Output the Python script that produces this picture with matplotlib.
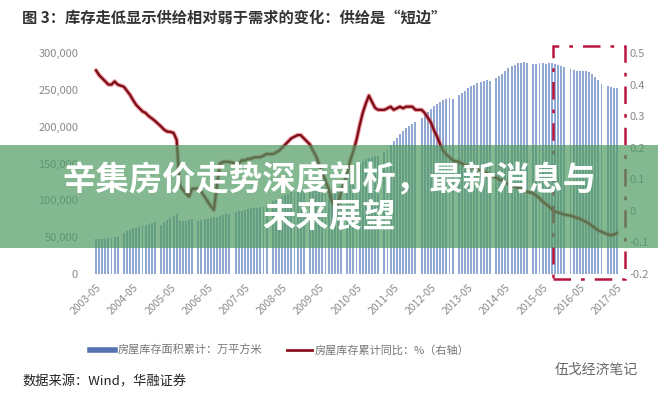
import numpy as np
import pandas as pd
import matplotlib
matplotlib.use("Agg")
import matplotlib.pyplot as plt
from matplotlib.lines import Line2D
from matplotlib.patches import Rectangle
from matplotlib.ticker import FuncFormatter

plt.rcParams['font.family'] = ['Noto Sans CJK SC', 'DejaVu Sans']

# monthly axis 2003-05 .. 2017-05, January has no data (Jan+Feb reported together)
first_month = '2003-05'
last_month = '2017-05'

# 房屋库存面积累计 (thousand 万平方米), one line per year, Feb..Dec
inventory_k = [
    47, 47, 48, 48, 49, 49, 50, 50,                      # 2003 May-Dec
    56, 58, 60, 62, 63, 64, 66, 67, 68, 69, 70,          # 2004
    67, 70, 73, 76, 79, 82, 72, 72, 72, 73, 74,          # 2005
    72, 73, 74, 75, 76, 77, 78, 79, 80, 81, 82,          # 2006
    84, 85, 86, 87, 88, 89, 90, 90, 91, 91, 92,          # 2007
    99, 101, 103, 105, 107, 109, 111, 112, 113, 113, 113,  # 2008
    119, 119, 120, 120, 120, 119, 119, 116, 115, 115, 119,  # 2009
    133, 137, 141, 145, 149, 153, 156, 158, 159, 160, 160,  # 2010
    166, 170, 175, 180, 185, 190, 194, 198, 201, 204, 207,  # 2011
    212, 216, 220, 224, 228, 231, 234, 236, 238, 239, 238,  # 2012
    243, 246, 249, 252, 255, 257, 259, 261, 262, 263, 262,  # 2013
    266, 269, 272, 276, 279, 282, 284, 286, 287, 288, 287,  # 2014
    285, 285, 286, 286, 285, 286, 286, 285, 284, 283, 281,  # 2015
    278, 277, 276, 276, 275, 275, 274, 272, 268, 263, 258,  # 2016
    255, 254, 253, 253,                                  # 2017 Feb-May
]

# 房屋库存累计同比 (right axis)
yoy = [
    0.445, 0.43, 0.42, 0.41, 0.40, 0.40, 0.41, 0.40,
    0.393, 0.38, 0.367, 0.35, 0.335, 0.325, 0.315, 0.31, 0.30, 0.293, 0.285,
    0.267, 0.257, 0.251, 0.25, 0.247, 0.225, 0.08, 0.066, 0.055, 0.045, 0.07,
    0.07, 0.06, 0.045, 0.03, 0.015, 0.003, 0.08, 0.15, 0.155, 0.156, 0.155,
    0.15, 0.15, 0.16, 0.16, 0.165, 0.165, 0.17, 0.17, 0.17, 0.175, 0.18,
    0.18, 0.185, 0.19, 0.20, 0.21, 0.22, 0.23, 0.235, 0.24, 0.24, 0.23,
    0.21, 0.19, 0.172, 0.145, 0.12, 0.095, 0.07, 0.03, 0.015, 0.02, 0.06,
    0.12, 0.16, 0.19, 0.225, 0.27, 0.31, 0.34, 0.365, 0.345, 0.326, 0.32,
    0.32, 0.325, 0.33, 0.32, 0.325, 0.33, 0.325, 0.33, 0.33, 0.33, 0.32,
    0.32, 0.31, 0.295, 0.28, 0.255, 0.235, 0.21, 0.19, 0.178, 0.17, 0.16,
    0.155, 0.15, 0.145, 0.14, 0.138, 0.135, 0.132, 0.13, 0.125, 0.12, 0.115,
    0.105, 0.10, 0.095, 0.09, 0.085, 0.08, 0.077, 0.073, 0.07, 0.066, 0.06,
    0.056, 0.048, 0.04, 0.03, 0.022, 0.015, 0.005, -0.002, -0.005, -0.008, -0.012,
    -0.015, -0.018, -0.022, -0.025, -0.03, -0.035, -0.04, -0.048, -0.055, -0.062, -0.066,
    -0.075, -0.077, -0.075, -0.07,
]

left_ticks = [0, 50000, 100000, 150000, 200000, 250000, 300000]
right_ticks = [-0.2, -0.1, 0, 0.1, 0.2, 0.3, 0.4, 0.5]

title = '图 3：库存走低显示供给相对弱于需求的变化：供给是“短边”'
bar_label = '房屋库存面积累计：万平方米'
line_label = '房屋库存累计同比：%（右轴）'
source = '数据来源：Wind，华融证券'
watermark = '伍戈经济笔记'
banner = '辛集房价走势深度剖析，最新消息与\n未来展望'

months = pd.period_range(first_month, last_month, freq='M')
pos = np.arange(len(months))[months.month != 1]
tick_pos = np.arange(0, len(months), 12)
tick_labels = [str(m) for m in months[tick_pos]]

fig = plt.figure(figsize=(6.58, 3.95), dpi=100)
ax = fig.add_axes([0.1398, 0.3063, 0.804, 0.5595])
ax2 = ax.twinx()

grey = '#8a8a8a'
ax.bar(pos, np.array(inventory_k) * 1000, width=0.62, color='#92a9d3', zorder=2)
ax.set_ylim(0, 300000)
ax.set_xlim(-1.3, len(months) - 1 + 1.3)
ax.set_yticks(left_ticks)
ax.yaxis.set_major_formatter(FuncFormatter(lambda v, p: f'{int(v):,}'))
ax.set_xticks(tick_pos)
ax.set_xticklabels(tick_labels, rotation=45, ha='right', rotation_mode='anchor')
ax.tick_params(axis='x', length=0, labelsize=7.5, labelcolor=grey, pad=6)
ax.tick_params(axis='y', length=0, labelsize=8, labelcolor=grey, pad=10)

ax2.plot(pos, yoy, color='#e04a5a', lw=3.2, alpha=0.55, solid_capstyle='round', zorder=3)
ax2.plot(pos, yoy, color='#7a0c16', lw=1.6, zorder=4)
ax2.set_ylim(-0.2, 0.5)
ax2.set_yticks(right_ticks)
ax2.yaxis.set_major_formatter(FuncFormatter(lambda v, p: '0' if abs(v) < 1e-9 else f'{v:.1f}'))
ax2.tick_params(axis='y', length=0, labelsize=8, labelcolor=grey, pad=6)

for a in (ax, ax2):
    for s in a.spines.values():
        s.set_visible(False)

# highlight box around the last period
box = Rectangle((147.4, -0.216), 23.2, 0.739, fill=False, ec='#b8163f', lw=1.8,
                ls=(0, (7, 4, 1.5, 4)), clip_on=False, zorder=5)
ax2.add_patch(box)

fig.text(22 / 658, 1 - 18 / 395, title, fontsize=11, fontweight='bold', color='#333333',
         va='center', ha='left')

handles = [Line2D([], [], color='#5672b0', lw=4),
           Line2D([], [], color='#8b1020', lw=2)]
fig.legend(handles, [bar_label, line_label], loc='center', ncol=2, frameon=False,
           bbox_to_anchor=(280 / 658, 1 - 350 / 395), fontsize=8, labelcolor='#777777',
           handlelength=2.2, handletextpad=0.3, columnspacing=2.2)

fig.text(22 / 658, 1 - 382 / 395, source, fontsize=9.5, color='#222222', va='center')
fig.text(638 / 658, 1 - 370 / 395, watermark, fontsize=10, color='#666666',
         va='center', ha='right')

# semi transparent green banner with headline
fig.patches.append(Rectangle((0, 1 - 248 / 395), 1, 103 / 395, transform=fig.transFigure,
                             facecolor='#4f9a63', alpha=0.7, zorder=10))
fig.text(0.5, 1 - 199 / 395, banner, fontsize=24, fontweight='bold', color='white',
         ha='center', va='center', linespacing=1.12, zorder=11)

fig.savefig('out.png', dpi=100)
